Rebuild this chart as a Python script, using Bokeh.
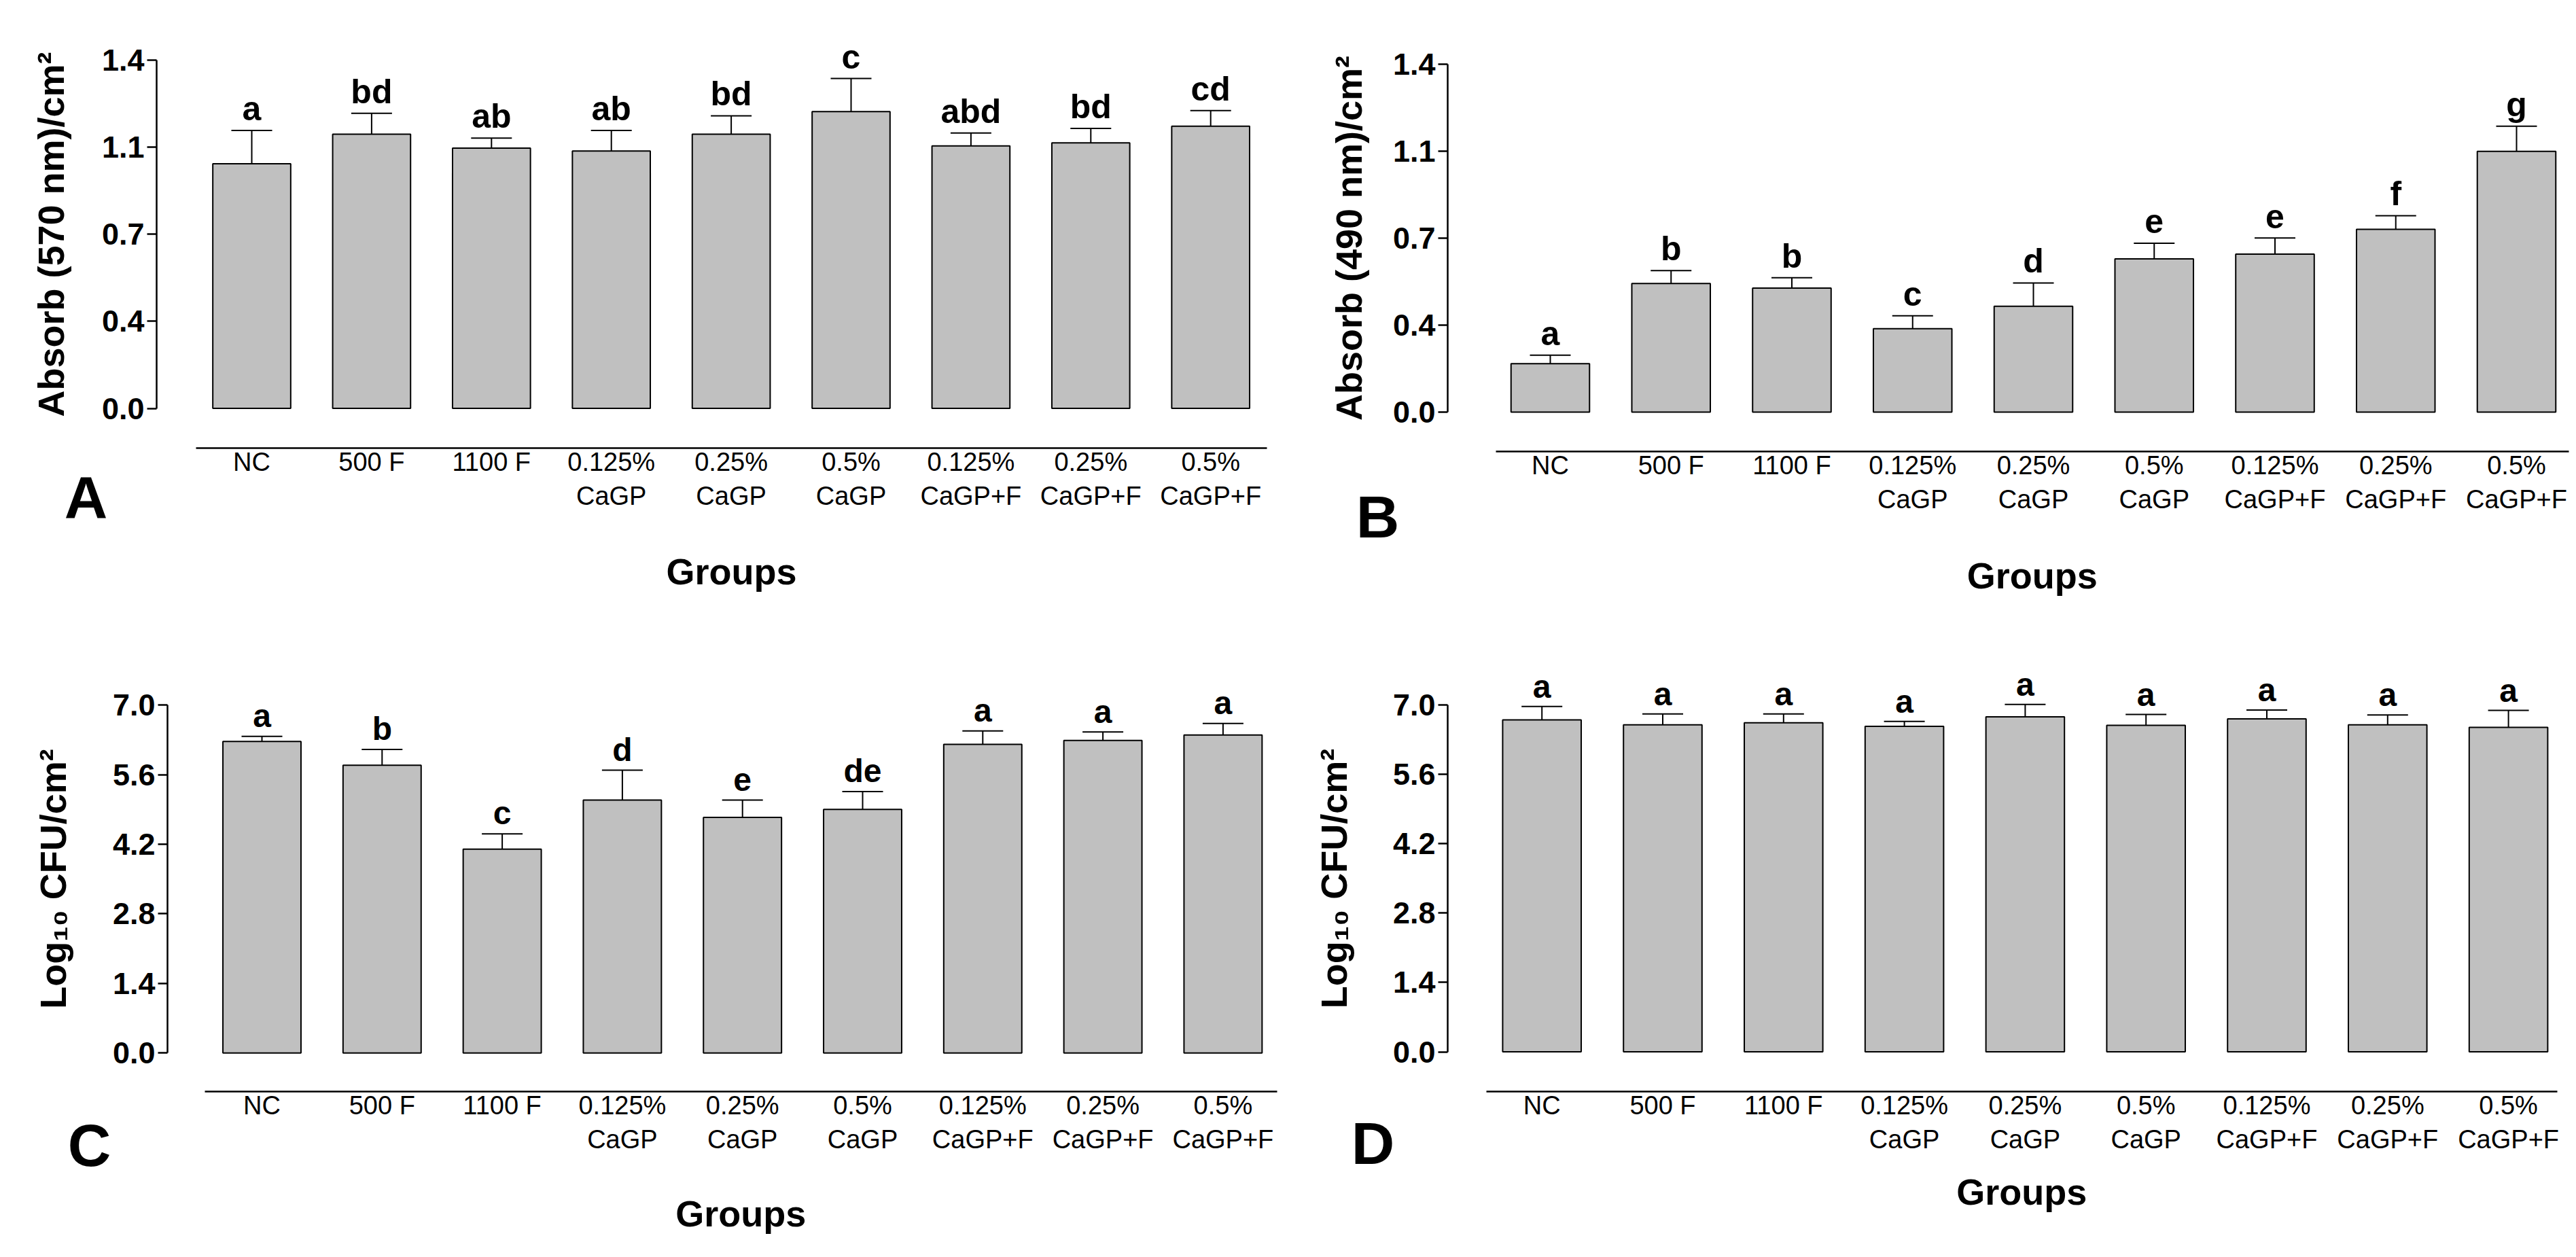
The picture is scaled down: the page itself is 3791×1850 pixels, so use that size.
from bokeh.plotting import figure
from bokeh.models import Range1d, FixedTicker, ColumnDataSource, Whisker, TeeHead, Label
from bokeh.layouts import column, row
from bokeh.embed import file_html
from bokeh.resources import INLINE
from bokeh.core.properties import value

# ---------------- data ----------------
groups = ["NC", "500 F", "1100 F", "0.125%\nCaGP", "0.25%\nCaGP", "0.5%\nCaGP",
          "0.125%\nCaGP+F", "0.25%\nCaGP+F", "0.5%\nCaGP+F"]

a_mean = [0.984, 1.103, 1.047, 1.035, 1.103, 1.194, 1.056, 1.068, 1.135]
a_err = [0.134, 0.084, 0.040, 0.083, 0.074, 0.133, 0.052, 0.058, 0.063]
a_letters = ["a", "bd", "ab", "ab", "bd", "c", "abd", "bd", "cd"]

b_mean = [0.195, 0.518, 0.499, 0.336, 0.426, 0.617, 0.636, 0.736, 1.050]
b_err = [0.034, 0.052, 0.042, 0.052, 0.094, 0.063, 0.065, 0.055, 0.101]
b_letters = ["a", "b", "b", "c", "d", "e", "e", "f", "g"]

c_mean = [6.27, 5.79, 4.10, 5.09, 4.74, 4.90, 6.21, 6.29, 6.40]
c_err = [0.10, 0.32, 0.31, 0.60, 0.35, 0.36, 0.27, 0.17, 0.23]
c_letters = ["a", "b", "c", "d", "e", "de", "a", "a", "a"]

d_mean = [6.70, 6.60, 6.64, 6.57, 6.76, 6.59, 6.72, 6.60, 6.55]
d_err = [0.27, 0.22, 0.18, 0.10, 0.25, 0.22, 0.18, 0.20, 0.34]
d_letters = ["a", "a", "a", "a", "a", "a", "a", "a", "a"]

abs_ticks = [0.0, 0.35, 0.70, 1.05, 1.40]
abs_tick_labels = ["0.0", "0.4", "0.7", "1.1", "1.4"]
cfu_ticks = [0.0, 1.4, 2.8, 4.2, 5.6, 7.0]
cfu_tick_labels = ["0.0", "1.4", "2.8", "4.2", "5.6", "7.0"]

FONT = "Liberation Sans"
LIFT = 0.36  # text is drawn centred on its anchor; lift by this many em to sit on baseline


def make_panel(means, errs, letters, ylabel, yticks, yticklabels, panel_letter, g):
    ymax = yticks[-1]
    ppu = (g["yzero"] - g["ymaxpix"]) / ymax

    def dx(px):
        return (px - g["nc"]) / g["sp"]

    def dy(py):
        return (g["yzero"] - py) / ppu

    p = figure(width=g["W"], height=g["H"],
               x_range=Range1d(dx(g["x0"]), dx(g["x0"] + g["W"])),
               y_range=Range1d(dy(g["y0"] + g["H"]), dy(g["y0"])),
               output_backend="svg", toolbar_location=None,
               min_border_left=0, min_border_right=0,
               min_border_top=0, min_border_bottom=0)
    p.outline_line_color = None
    p.xgrid.visible = False
    p.ygrid.visible = False
    p.background_fill_color = "white"
    p.border_fill_color = "white"

    xs = list(range(len(groups)))
    upper = [m + e for m, e in zip(means, errs)]
    lift = (g["gap"] + LIFT * g["lfs"]) / ppu
    src = ColumnDataSource(dict(x=xs, mean=means, upper=upper,
                                ly=[u + lift for u in upper],
                                letter=letters))
    p.vbar(x="x", top="mean", bottom=0, width=0.65, source=src,
           fill_color="#C0C0C0", line_color="black", line_width=2)
    w = Whisker(source=src, base="x", lower="mean", upper="upper", dimension="height",
                line_color="black", line_width=2,
                upper_head=TeeHead(size=60, line_color="black", line_width=2),
                lower_head=None)
    p.add_layout(w)
    p.text(x="x", y="ly", text="letter", source=src,
           text_align="center", text_baseline="alphabetic",
           text_font=value(FONT), text_font_style="bold",
           text_font_size="%dpx" % g["lfs"], text_color="black")

    xa = p.xaxis[0]
    xa.fixed_location = dy(g["fb"])
    xa.ticker = FixedTicker(ticks=xs)
    xa.major_label_overrides = {i: s for i, s in enumerate(groups)}
    xa.bounds = (dx(g["sep"]), dx(g["fr"]))
    xa.axis_line_width = 2.5
    xa.axis_line_color = "black"
    xa.major_tick_line_color = None
    xa.minor_tick_line_color = None
    xa.major_label_text_font = FONT
    xa.major_label_text_font_size = "38px"
    xa.major_label_text_color = "black"
    xa.major_label_standoff = -7

    ya = p.yaxis[0]
    ya.fixed_location = dx(g["fl"])
    ya.ticker = FixedTicker(ticks=yticks)
    ya.major_label_overrides = dict(zip(yticks, yticklabels))
    ya.bounds = (0, ymax)
    ya.axis_line_width = 2.5
    ya.axis_line_color = "black"
    ya.major_tick_out = 14
    ya.major_tick_in = 0
    ya.major_tick_line_width = 2.5
    ya.major_tick_line_color = "black"
    ya.minor_tick_line_color = None
    ya.major_label_text_font = FONT
    ya.major_label_text_font_style = "bold"
    ya.major_label_text_font_size = "45px"
    ya.major_label_text_color = "black"
    ya.major_label_standoff = 4
    ya.axis_label = ylabel
    ya.axis_label_text_font = FONT
    ya.axis_label_text_font_style = "bold"
    ya.axis_label_text_font_size = "54px"
    ya.axis_label_text_color = "black"
    ya.axis_label_standoff = g["ts"]

    gx = (dx(g["sep"]) + dx(g["fr"])) / 2
    p.add_layout(Label(x=gx, y=dy(g["gb"] - LIFT * 54), text="Groups",
                       text_align="center", text_baseline="alphabetic",
                       text_font=FONT, text_font_style="bold", text_font_size="54px",
                       text_color="black"))
    p.add_layout(Label(x=dx(g["lx"]), y=dy(g["lb"] - LIFT * 88), text=panel_letter,
                       text_align="center", text_baseline="alphabetic",
                       text_font=FONT, text_font_style="bold", text_font_size="88px",
                       text_color="black"))
    return p


geo_a = dict(x0=0, y0=0, W=1894, H=923, fl=230, fr=1864, fb=659,
             nc=370, sp=176.4, yzero=600.5, ymaxpix=88.3, sep=288, ts=42,
             gb=860, lx=126, lb=763, lfs=50, gap=14)
geo_b = dict(x0=1894, y0=0, W=1891, H=923, fl=2130, fr=3780, fb=664,
             nc=2281, sp=177.75, yzero=605.9, ymaxpix=94.4, sep=2200.6, ts=32,
             gb=866, lx=2027, lb=792, lfs=50, gap=14)
geo_c = dict(x0=0, y0=923, W=1894, H=925, fl=246, fr=1879, fb=1606,
             nc=385, sp=176.8, yzero=1549.2, ymaxpix=1037.3, sep=300.6, ts=55,
             gb=1805, lx=131, lb=1717, lfs=48, gap=13)
geo_d = dict(x0=1894, y0=923, W=1891, H=925, fl=2130, fr=3763, fb=1606,
             nc=2268.7, sp=177.8, yzero=1547.5, ymaxpix=1037.1, sep=2186.7, ts=54,
             gb=1773, lx=2020, lb=1714, lfs=48, gap=12)

pa = make_panel(a_mean, a_err, a_letters, "Absorb (570 nm)/cm\u00b2",
                abs_ticks, abs_tick_labels, "A", geo_a)
pb = make_panel(b_mean, b_err, b_letters, "Absorb (490 nm)/cm\u00b2",
                abs_ticks, abs_tick_labels, "B", geo_b)
pc = make_panel(c_mean, c_err, c_letters, "Log\u2081\u2080 CFU/cm\u00b2",
                cfu_ticks, cfu_tick_labels, "C", geo_c)
pd = make_panel(d_mean, d_err, d_letters, "Log\u2081\u2080 CFU/cm\u00b2",
                cfu_ticks, cfu_tick_labels, "D", geo_d)

layout = column(row(pa, pb), row(pc, pd))
open("out.html", "w").write(file_html(layout, INLINE))
